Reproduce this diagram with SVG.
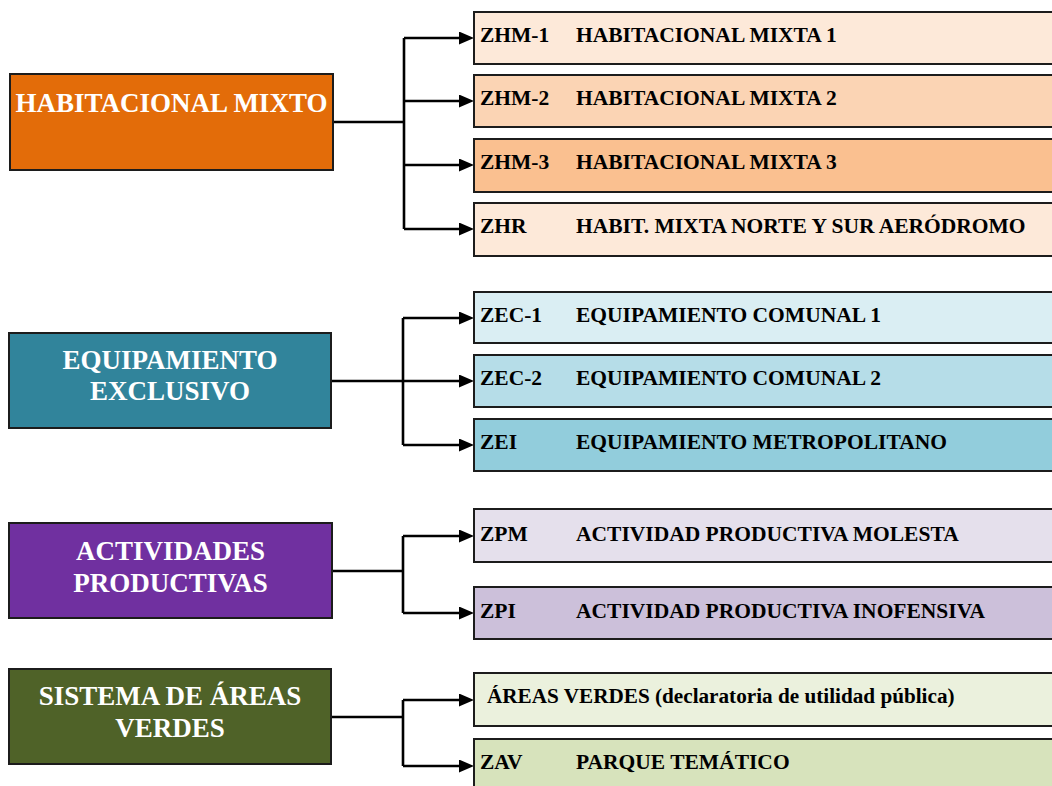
<svg xmlns="http://www.w3.org/2000/svg" width="1052" height="786" viewBox="0 0 1052 786">
  <style>
    .box { stroke: #1c1c1c; stroke-width: 2; }
    .title { font-family: "Liberation Serif", "Times New Roman", serif; font-weight: bold; font-size: 27px; fill: #ffffff; text-anchor: middle; }
    .item { font-family: "Liberation Serif", "Times New Roman", serif; font-weight: bold; font-size: 21.5px; fill: #000000; }
    .note { font-size: 21.2px; }
    .link { fill: none; stroke: #000000; stroke-width: 2.6; }
  </style>
  <defs>
    <marker id="arrow" markerUnits="userSpaceOnUse" markerWidth="16" markerHeight="14" refX="2" refY="6.5" orient="auto">
      <path d="M0,0 L15,6.5 L0,13 z" fill="#000000"/>
    </marker>
  </defs>
  <rect width="1052" height="786" fill="#ffffff"/>

  <!-- connectors -->
  <g id="connectors" class="link">
    <path d="M333 122 H404 M404 38 V229"/>
    <path d="M404 38 H461" marker-end="url(#arrow)"/>
    <path d="M404 101 H461" marker-end="url(#arrow)"/>
    <path d="M404 165 H461" marker-end="url(#arrow)"/>
    <path d="M404 229 H461" marker-end="url(#arrow)"/>

    <path d="M331 381 H403 M403 318 V445"/>
    <path d="M403 318 H461" marker-end="url(#arrow)"/>
    <path d="M403 381 H461" marker-end="url(#arrow)"/>
    <path d="M403 445 H461" marker-end="url(#arrow)"/>

    <path d="M332 571 H403 M403 536 V613"/>
    <path d="M403 536 H461" marker-end="url(#arrow)"/>
    <path d="M403 613 H461" marker-end="url(#arrow)"/>

    <path d="M331 717 H403 M403 700 V766"/>
    <path d="M403 700 H461" marker-end="url(#arrow)"/>
    <path d="M403 766 H461" marker-end="url(#arrow)"/>
  </g>

  <!-- parent categories -->
  <g id="habitacional-mixto">
    <rect class="box" x="10" y="74" width="323" height="96" fill="#E36C09"/>
    <text class="title" x="171.5" y="112">HABITACIONAL MIXTO</text>
  </g>
  <g id="equipamiento-exclusivo">
    <rect class="box" x="9" y="333" width="322" height="95" fill="#31849B"/>
    <text class="title" x="170" y="369">EQUIPAMIENTO</text>
    <text class="title" x="170" y="400">EXCLUSIVO</text>
  </g>
  <g id="actividades-productivas">
    <rect class="box" x="9" y="523" width="323" height="95" fill="#7030A0"/>
    <text class="title" x="170.5" y="560">ACTIVIDADES</text>
    <text class="title" x="170.5" y="592">PRODUCTIVAS</text>
  </g>
  <g id="sistema-areas-verdes">
    <rect class="box" x="9" y="669" width="322" height="95" fill="#4F6228"/>
    <text class="title" x="170" y="705">SISTEMA DE ÁREAS</text>
    <text class="title" x="170" y="737">VERDES</text>
  </g>

  <!-- zones -->
  <g id="zhm-1">
    <rect class="box" x="474" y="12" width="590" height="52" fill="#FDE9D9"/>
    <text class="item" x="480" y="42">ZHM-1</text>
    <text class="item" x="576" y="42">HABITACIONAL MIXTA 1</text>
  </g>
  <g id="zhm-2">
    <rect class="box" x="474" y="75" width="590" height="52" fill="#FBD4B4"/>
    <text class="item" x="480" y="105">ZHM-2</text>
    <text class="item" x="576" y="105">HABITACIONAL MIXTA 2</text>
  </g>
  <g id="zhm-3">
    <rect class="box" x="474" y="139" width="590" height="53" fill="#FAC090"/>
    <text class="item" x="480" y="169">ZHM-3</text>
    <text class="item" x="576" y="169">HABITACIONAL MIXTA 3</text>
  </g>
  <g id="zhr">
    <rect class="box" x="474" y="203" width="590" height="53" fill="#FDE9D9"/>
    <text class="item" x="480" y="233">ZHR</text>
    <text class="item" x="576" y="233">HABIT. MIXTA NORTE Y SUR AERÓDROMO</text>
  </g>

  <g id="zec-1">
    <rect class="box" x="474" y="292" width="590" height="51" fill="#DAEEF3"/>
    <text class="item" x="480" y="322">ZEC-1</text>
    <text class="item" x="576" y="322">EQUIPAMIENTO COMUNAL 1</text>
  </g>
  <g id="zec-2">
    <rect class="box" x="474" y="355" width="590" height="52" fill="#B6DDE8"/>
    <text class="item" x="480" y="385">ZEC-2</text>
    <text class="item" x="576" y="385">EQUIPAMIENTO COMUNAL 2</text>
  </g>
  <g id="zei">
    <rect class="box" x="474" y="419" width="590" height="52" fill="#92CDDC"/>
    <text class="item" x="480" y="449">ZEI</text>
    <text class="item" x="576" y="449">EQUIPAMIENTO METROPOLITANO</text>
  </g>

  <g id="zpm">
    <rect class="box" x="474" y="509" width="590" height="53" fill="#E5E0EC"/>
    <text class="item" x="480" y="541">ZPM</text>
    <text class="item" x="576" y="541">ACTIVIDAD PRODUCTIVA MOLESTA</text>
  </g>
  <g id="zpi">
    <rect class="box" x="474" y="587" width="590" height="52" fill="#CCC0DA"/>
    <text class="item" x="480" y="618">ZPI</text>
    <text class="item" x="576" y="618">ACTIVIDAD PRODUCTIVA INOFENSIVA</text>
  </g>

  <g id="areas-verdes">
    <rect class="box" x="474" y="673" width="590" height="53" fill="#EBF1DD"/>
    <text class="item note" x="487" y="703">ÁREAS VERDES (declaratoria de utilidad pública)</text>
  </g>
  <g id="zav">
    <rect class="box" x="474" y="739" width="590" height="60" fill="#D7E3BC"/>
    <text class="item" x="480" y="769">ZAV</text>
    <text class="item" x="576" y="769">PARQUE TEMÁTICO</text>
  </g>
</svg>
